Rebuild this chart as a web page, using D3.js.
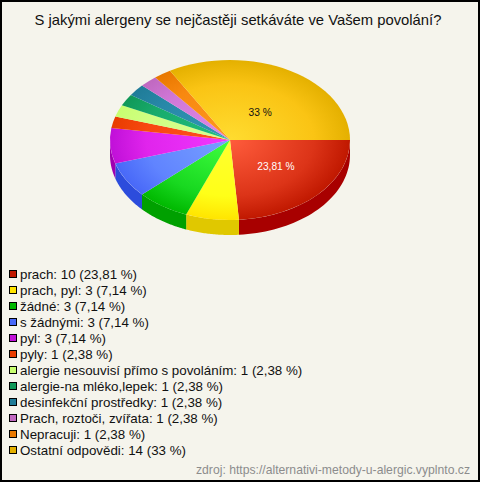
<!DOCTYPE html>
<html><head><meta charset="utf-8">
<script src="https://cdn.jsdelivr.net/npm/d3@7/dist/d3.min.js"></script>
<style>html,body{margin:0;padding:0;background:#f5f4ec}svg{display:block}text{font-family:"Liberation Sans",Arial,sans-serif}</style>
</head><body><div id="c"></div>
<script>
const titleText = "S jakými alergeny se nejčastěji setkáváte ve Vašem povolání?";
const sourceText = "zdroj: https://alternativi-metody-u-alergic.vyplnto.cz";
const categories = ["prach","prach, pyl","žádné","s žádnými","pyl","pyly","alergie nesouvisí přímo s povoláním","alergie-na mléko,lepek","desinfekční prostředky","Prach, roztoči, zvířata","Nepracuji","Ostatní odpovědi"];
const values = [10,3,3,3,3,1,1,1,1,1,1,14];
const percentLabels = ["23,81 %","7,14 %","7,14 %","7,14 %","7,14 %","2,38 %","2,38 %","2,38 %","2,38 %","2,38 %","2,38 %","33 %"];
const centerColors = ["#ff5c3c","#ffff30","#40ff40","#78a0ff","#f038ff","#ff5020","#d8ff90","#20c080","#3098b8","#e088e8","#ff9820","#ffdc30"];
const midColors = ["#dc3418","#ffff18","#18d820","#6084ff","#e024ec","#f84810","#d0ff84","#18ac6c","#2888a8","#d078d8","#f88810","#fac414"];
const edgeColors = ["#c01800","#ffe400","#00b800","#4868f8","#c010d8","#e83c00","#c8ff70","#109858","#207c98","#c068c0","#e87800","#e4b000"];
const sideColors = ["#a80000","#e0c800","#00a000","#2c4cdc","#a000b0","#c83000","#a8d850","#008040","#106078","#a050a0","#c86000","#c09000"];
const W=480,H=482,cx=230,cy=140,rx=120,ry=80,depth=15;
const svg=d3.select("#c").append("svg").attr("width",W).attr("height",H);
svg.append("rect").attr("x",1).attr("y",1).attr("width",W-2).attr("height",H-2).attr("fill","#f5f4ec").attr("stroke","#000").attr("stroke-width",2);
svg.append("text").attr("x",238).attr("y",25).attr("text-anchor","middle").attr("font-size",14.8).attr("fill","#111").text(titleText);
const defs=svg.append("defs");
const sx=d3.scaleLinear().domain([-1,1]).range([cx-rx,cx+rx]);
const sy=d3.scaleLinear().domain([-1,1]).range([cy-ry,cy+ry]);
const arcs=d3.pie().value(d=>d).sort(null).startAngle(Math.PI/2).endAngle(Math.PI*2.5)(values);
const wall=svg.append("g");
arcs.forEach((a,i)=>{
  const lo=Math.max(a.startAngle,Math.PI/2), hi=Math.min(a.endAngle,Math.PI*1.5);
  if(hi<=lo) return;
  const ts=d3.range(0,41).map(k=>lo+(hi-lo)*k/40);
  const pts=ts.map(t=>[sx(Math.sin(t)),sy(-Math.cos(t))]).concat(ts.slice().reverse().map(t=>[sx(Math.sin(t)),sy(-Math.cos(t))+depth]));
  wall.append("path").attr("d",d3.line()(pts)+"Z").attr("fill",sideColors[i]);
});
const face=svg.append("g").attr("transform",`translate(${cx},${cy}) scale(1,${ry/rx})`);
const arc=d3.arc().innerRadius(0).outerRadius(rx);
arcs.forEach((a,i)=>{
  const g=defs.append("radialGradient").attr("id","g"+i).attr("gradientUnits","userSpaceOnUse").attr("cx",0).attr("cy",0).attr("r",rx);
  g.append("stop").attr("offset",0).attr("stop-color",centerColors[i]);
  g.append("stop").attr("offset",0.7).attr("stop-color",midColors[i]);
  g.append("stop").attr("offset",1).attr("stop-color",edgeColors[i]);
  face.append("path").attr("d",arc(a)).attr("fill",`url(#g${i})`);
});
[[0,"#fff",0.5,2,3],[11,"#111",0.46,2.5,7.5]].forEach(([i,col,k,dx,dy])=>{
  const m=(arcs[i].startAngle+arcs[i].endAngle)/2;
  svg.append("text").attr("x",cx+rx*k*Math.sin(m)+dx).attr("y",cy-ry*k*Math.cos(m)+dy).attr("text-anchor","middle").attr("font-size",10.2).attr("fill",col).text(percentLabels[i]);
});
const row=d3.scaleBand().domain(d3.range(categories.length)).range([266,458]);
const lg=svg.append("g").selectAll("g").data(categories).join("g").attr("transform",(d,i)=>`translate(0,${row(i)})`);
lg.append("rect").attr("x",9.5).attr("y",4.5).attr("width",7).attr("height",7).attr("fill",(d,i)=>edgeColors[i]).attr("stroke","#000").attr("stroke-width",1);
lg.append("text").attr("x",20).attr("y",13.2).attr("font-size",13.33).attr("fill","#111").text((d,i)=>`${d}: ${values[i]} (${percentLabels[i]})`);
svg.append("text").attr("x",470).attr("y",474).attr("text-anchor","end").attr("font-size",12.18).attr("fill","#8c8c8c").text(sourceText);
</script></body></html>
